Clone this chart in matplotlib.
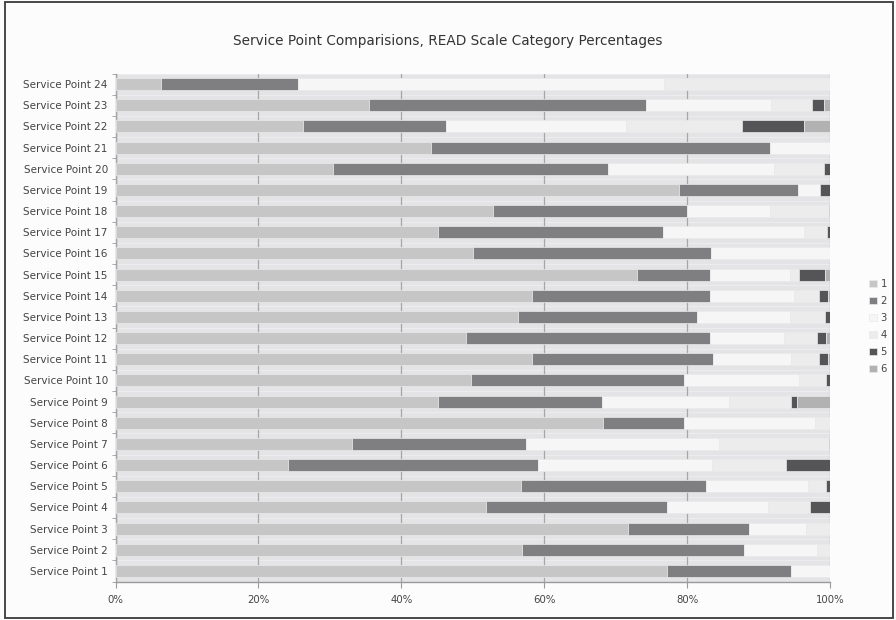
import numpy as np
import matplotlib
matplotlib.use('Agg')
import matplotlib.pyplot as plt
from matplotlib.patches import Rectangle

# Service points 1..24 (bottom to top)
points = ['Service Point %d' % i for i in range(1, 25)]

# READ scale category percentages, one list per category
cat1 = [77.2, 56.9, 71.7, 51.9, 56.7, 24.1, 33.1, 68.2, 45.2, 49.8, 58.3, 49.0,
        56.3, 58.3, 73.0, 50.1, 45.2, 52.8, 78.9, 30.4, 44.2, 26.3, 35.5, 6.4]
cat2 = [17.4, 31.1, 17.0, 25.3, 25.9, 35.0, 24.3, 11.3, 22.9, 29.8, 25.3, 34.2,
        25.1, 24.9, 10.2, 33.2, 31.4, 27.2, 16.6, 38.5, 47.4, 20.0, 38.7, 19.1]
cat3 = [5.4, 10.2, 8.0, 14.1, 14.3, 24.4, 27.1, 18.4, 17.7, 16.1, 11.0, 10.4,
        13.0, 11.7, 11.2, 16.7, 19.7, 11.6, 3.1, 23.3, 8.4, 25.1, 17.5, 51.2]
cat4 = [0, 1.8, 3.3, 5.9, 2.6, 10.4, 15.3, 2.1, 8.7, 3.8, 3.9, 4.6,
        4.9, 3.6, 1.2, 0, 3.3, 8.2, 0, 7.0, 0, 16.3, 5.8, 23.3]
cat5 = [0, 0, 0, 2.8, 0.5, 6.1, 0.2, 0, 0.9, 0.5, 1.2, 1.3,
        0.7, 1.2, 3.7, 0, 0.4, 0.2, 1.4, 0.8, 0, 8.7, 1.6, 0]
cat6 = [0, 0, 0, 0, 0, 0, 0, 0, 4.6, 0, 0.3, 0.5,
        0, 0.3, 0.7, 0, 0, 0, 0, 0, 0, 3.6, 0.9, 0]

cats = [cat1, cat2, cat3, cat4, cat5, cat6]
cat_labels = ['1', '2', '3', '4', '5', '6']
colors = ['#c6c6c6', '#7f7f81', '#f6f6f6', '#ececec', '#555557', '#b2b2b2']

fig = plt.figure(figsize=(8.96, 6.2), dpi=100, facecolor='#fcfcfc')
ax = fig.add_axes([115.5 / 896, 1 - 581.5 / 620, (830 - 115.5) / 896, (581.5 - 73.5) / 620])
ax.set_facecolor('#e4e4e6')

y = np.arange(len(points))
left = np.zeros(len(points))
handles = []
for vals, c, lab in zip(cats, colors, cat_labels):
    b = ax.barh(y, vals, left=left, height=0.56, color=c, edgecolor='#eaeaea',
                linewidth=0.5, label=lab, zorder=3)
    handles.append(b)
    left += np.array(vals)

# faint row separators
for yy in np.arange(-0.5, 24, 1):
    ax.axhline(yy, color='#ececee', lw=0.8, zorder=1)

ax.set_xlim(0, 100)
ax.set_ylim(-0.5, 23.5)
ax.set_xticks([0, 20, 40, 60, 80, 100])
ax.set_xticklabels(['0%', '20%', '40%', '60%', '80%', '100%'], fontsize=7.3, color='#444444')
ax.set_yticks(y)
ax.set_yticklabels(points, fontsize=7.5, color='#444444')
ax.set_yticks(np.arange(-0.5, 24, 1), minor=True)
ax.tick_params(axis='y', which='major', length=0, pad=5.5)
ax.tick_params(axis='y', which='minor', length=3, color='#9a9a9a')
ax.tick_params(axis='x', length=4, color='#9a9a9a', pad=6)
ax.xaxis.grid(True, color='#a6a6a6', lw=0.9, zorder=2)
ax.set_axisbelow(False)
for s in ['top', 'right']:
    ax.spines[s].set_visible(False)
for s in ['left', 'bottom']:
    ax.spines[s].set_color('#9a9a9a')
    ax.spines[s].set_linewidth(1.0)

fig.text(0.5, 1 - 41 / 620, 'Service Point Comparisions, READ Scale Category Percentages',
         ha='center', va='center', fontsize=9.8, color='#333333')

fig.legend(handles=handles, labels=cat_labels, loc='center',
           bbox_to_anchor=(878 / 896, 1 - 326.5 / 620), frameon=False,
           fontsize=7.2, handlelength=0.75, handleheight=0.75, handletextpad=0.4,
           labelspacing=0.7, labelcolor='#444444')

fig.patches.append(Rectangle((5 / 896, 2 / 620), 888 / 896, 616 / 620, transform=fig.transFigure,
                             fill=False, edgecolor='#3a3a3a', lw=1.3))

fig.savefig('out.png', dpi=100, facecolor=fig.get_facecolor())
